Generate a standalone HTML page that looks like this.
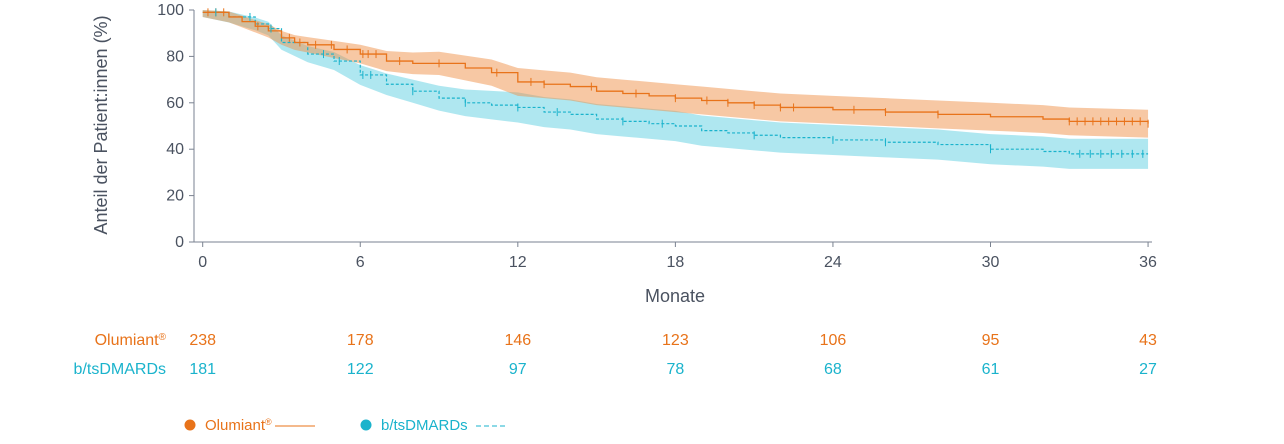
<!DOCTYPE html><html><head><meta charset="utf-8"><style>
body{margin:0;background:#fff}
svg text{font-family:"Liberation Sans",sans-serif}
</style></head><body>
<svg id="s" width="1284" height="439" xmlns="http://www.w3.org/2000/svg"></svg>
<script>
const X=m=>202.7+m*26.26, Y=v=>242-v*2.32;
const O=[[0,99],[1,97],[1.5,95],[2,93],[2.5,91],[3,88],[3.5,86],[4,85],[5,83],[6,81],[7,78],[8,77],[9,77],[10,75],[11,73],[12,69],[13,68],[14,67],[15,65],[16,64],[17,63],[18,62],[19,61],[20,60],[21,59],[22,58],[24,57],[26,56],[28,55],[30,54],[32,53],[33,52],[36,51]];
const B=[[0,99],[1,97],[2,94],[2.5,92],[3,86],[4,81],[5,78],[6,72],[7,68],[8,65],[9,62],[10,60],[11,59],[12,58],[13,56],[14,55],[15,53],[16,52],[17,51],[18,50],[19,48],[20,47],[21,46],[22,45],[24,44],[26,43],[28,42],[30,40],[32,39],[33,38],[36,38]];
function step(a){let d=`M${X(a[0][0])},${Y(a[0][1])}`;for(let i=1;i<a.length;i++){d+=`H${X(a[i][0])}V${Y(a[i][1])}`;}return d;}
function band(a,w0,w1){let up=[],lo=[];a.forEach(([m,v])=>{let w=w0+(w1-w0)*Math.min(1,m/12);up.push(`${X(m)},${Y(Math.min(100,v+w))}`);lo.unshift(`${X(m)},${Y(v-w)}`)});return 'M'+up.join('L')+'L'+lo.join('L')+'Z';}
let h='';
h+=`<path d="${band(B,2,6.5)}" fill="#5fd0e2" opacity="0.5"/>`;
h+=`<path d="${band(O,2,6)}" fill="#f0924a" opacity="0.5"/>`;
h+=`<path d="${step(B)}" fill="none" stroke="#1ab3cc" stroke-width="1.2" stroke-dasharray="3,2"/>`;
h+=`<path d="${step(O)}" fill="none" stroke="#e8731a" stroke-width="1.3"/>`;
function ticks(a,c,ms){let s='';for(const m of ms){let v=a[0][1];for(const p of a){if(p[0]<=m)v=p[1];}s+=`<line x1="${X(m)}" x2="${X(m)}" y1="${Y(v)-4}" y2="${Y(v)+4}" stroke="${c}" stroke-width="1"/>`;}return s;}
const mo=[0.2,0.5,0.8,2.1,3.3,3.7,4.3,4.9,5.5,6.1,6.3,6.6,7.5,9,11.2,12.5,13,14.8,16.5,18,19.2,20,21,22,22.5,24.8,26,28,33,33.3,33.6,33.9,34.2,34.5,34.8,35.1,35.4,35.7,36];
const mb=[0.5,1.8,2.6,4.6,5.2,6.1,6.4,8,10,12,13.5,16,17.5,21,24,26,30,33.4,33.8,34.2,34.6,35,35.4,35.8];
h+=ticks(O,"#e8731a",mo)+ticks(B,"#1ab3cc",mb);
h+=`<line x1="194" x2="194" y1="10" y2="242" stroke="#7a8290"/><line x1="194" x2="1152" y1="242" y2="242" stroke="#7a8290"/>`;
for(let v=0;v<=100;v+=20){h+=`<line x1="189" x2="194" y1="${Y(v)}" y2="${Y(v)}" stroke="#7a8290"/><text x="184" y="${Y(v)+5}" text-anchor="end" font-size="16" fill="#4a5260">${v}</text>`;}
for(let m=0;m<=36;m+=6){h+=`<line x1="${X(m)}" x2="${X(m)}" y1="242" y2="247" stroke="#7a8290"/><text x="${X(m)}" y="267" text-anchor="middle" font-size="16" fill="#4a5260">${m}</text>`;}
h+=`<text transform="translate(107,125) rotate(-90)" text-anchor="middle" font-size="18" fill="#4a5260">Anteil der Patient:innen (%)</text>`;
h+=`<text x="675" y="302" text-anchor="middle" font-size="18" fill="#4a5260">Monate</text>`;
const n1=[238,178,146,123,106,95,43],n2=[181,122,97,78,68,61,27];
h+=`<text x="166" y="345" text-anchor="end" font-size="16" fill="#e8731a">Olumiant<tspan font-size="10" dy="-5">®</tspan></text><text x="166" y="374" text-anchor="end" font-size="16" fill="#1ab3cc">b/tsDMARDs</text>`;
n1.forEach((n,i)=>h+=`<text x="${X(i*6)}" y="345" text-anchor="middle" font-size="16" fill="#e8731a">${n}</text>`);
n2.forEach((n,i)=>h+=`<text x="${X(i*6)}" y="374" text-anchor="middle" font-size="16" fill="#1ab3cc">${n}</text>`);
h+=`<circle cx="190" cy="425" r="5.5" fill="#e8731a"/><text x="205" y="430" font-size="15" fill="#e8731a">Olumiant<tspan font-size="9" dy="-5">®</tspan></text><line x1="275" x2="315" y1="426" y2="426" stroke="#e8731a"/>`;
h+=`<circle cx="366" cy="425" r="5.5" fill="#1ab3cc"/><text x="381" y="430" font-size="15" fill="#1ab3cc">b/tsDMARDs</text><line x1="476" x2="508" y1="426" y2="426" stroke="#1ab3cc" stroke-dasharray="5,3"/>`;
document.getElementById('s').innerHTML=h;
</script></body></html>
